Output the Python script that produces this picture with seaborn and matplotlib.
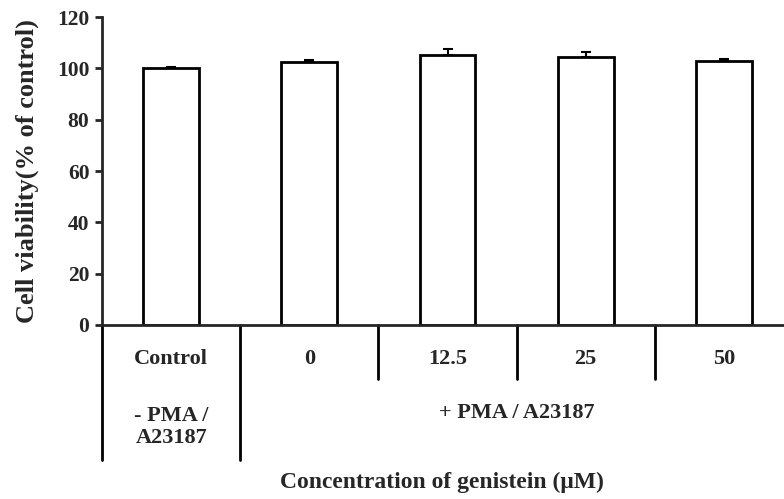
import matplotlib
matplotlib.use('Agg')
import matplotlib.pyplot as plt
import seaborn as sns

# Data
categories = ['Control', '0', '12.5', '25', '50']
viability = [100.0, 102.4, 105.3, 104.5, 102.7]
sem = [0.6, 0.8, 2.3, 1.7, 0.9]
group_labels = ['- PMA /\nA23187', '+ PMA / A23187']
yticks = [0, 20, 40, 60, 80, 100, 120]

sns.set_style('ticks')
plt.rcParams['font.family'] = ['Liberation Serif', 'DejaVu Serif']
plt.rcParams['font.weight'] = 'bold'

fig = plt.figure(figsize=(7.84, 4.99), dpi=100)
ax = fig.add_axes([0.1301, 0.3487, 0.8814, 0.6172])

sns.barplot(x=categories, y=viability, order=categories, color='white',
            edgecolor='black', linewidth=2, width=0.405, errorbar=None, ax=ax)
for p in ax.patches:
    p.set_facecolor('white')

pos = list(range(len(categories)))
ax.errorbar(pos, viability, yerr=[[0] * len(sem), sem], fmt='none',
            ecolor='black', elinewidth=1.5, capsize=3.5, capthick=1.5)

ax.set_xlim(-0.5, len(categories) - 0.5)
ax.set_ylim(0, 120)
ax.set_yticks(yticks)
ax.set_yticklabels([str(t) for t in yticks], fontsize=15.5, fontweight='bold')
ax.set_xticks(pos)
ax.set_xticklabels(categories, fontsize=16, fontweight='bold')
ax.tick_params(axis='x', length=0, pad=17)
ax.tick_params(axis='y', direction='out', length=5, width=2, pad=4)

sns.despine(ax=ax)
for s in ['left', 'bottom']:
    ax.spines[s].set_linewidth(2)

ax.set_ylabel('Cell viability(% of control)', fontsize=19, fontweight='bold', labelpad=13)
ax.set_xlabel('')

# group dividers under the axis
trans = ax.get_xaxis_transform()
for b in [-0.5, 0.5]:
    ax.plot([b, b], [0, -0.438], transform=trans, clip_on=False, color='black', lw=2)
for b in [1.5, 2.5, 3.5]:
    ax.plot([b, b], [0, -0.175], transform=trans, clip_on=False, color='black', lw=2)

ax.text(0, -0.33, group_labels[0], transform=trans, ha='center', va='center',
        fontsize=16, fontweight='bold', linespacing=1.15)
ax.text(2.5, -0.285, group_labels[1], transform=trans, ha='center', va='center',
        fontsize=16, fontweight='bold')

fig.text(442 / 784, 1 - 482 / 499, 'Concentration of genistein (μM)', ha='center',
         va='center', fontsize=17, fontweight='bold')

fig.savefig('out.png', dpi=100)
